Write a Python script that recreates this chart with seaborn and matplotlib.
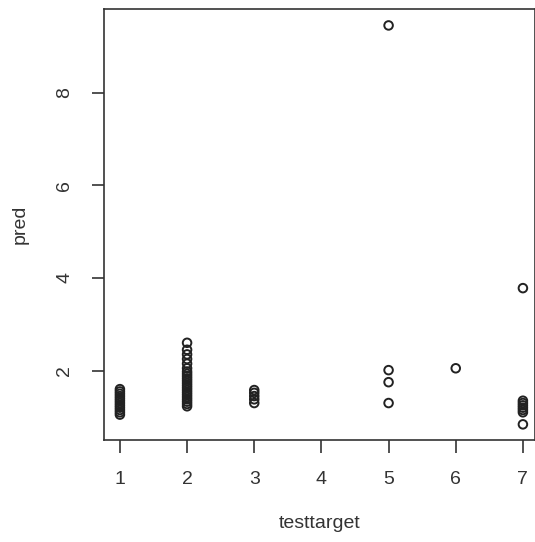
import matplotlib
matplotlib.use("Agg")
import matplotlib.pyplot as plt
import seaborn as sns
import pandas as pd

sns.set_style("ticks")
plt.rcParams['font.family'] = ['Liberation Sans', 'DejaVu Sans']

# test target class and predicted value
t1 = [1.05, 1.10, 1.15, 1.20, 1.25, 1.30, 1.35, 1.40, 1.45, 1.50, 1.55, 1.60]
t2 = [1.23, 1.28, 1.33, 1.38, 1.43, 1.48, 1.53, 1.58, 1.63, 1.68, 1.73, 1.78,
      1.83, 1.88, 1.93, 1.98, 2.05, 2.15, 2.25, 2.35, 2.45, 2.60]
t3 = [1.30, 1.38, 1.45, 1.52, 1.58]
t5 = [1.30, 1.75, 2.01, 9.45]
t6 = [2.05]
t7 = [0.84, 1.10, 1.15, 1.20, 1.25, 1.30, 1.35, 3.78]

testtarget = [1] * len(t1) + [2] * len(t2) + [3] * len(t3) + [5] * len(t5) + [6] * len(t6) + [7] * len(t7)
pred = t1 + t2 + t3 + t5 + t6 + t7
df = pd.DataFrame({"testtarget": testtarget, "pred": pred})

fig = plt.figure(figsize=(5.35, 5.42), dpi=100)
ax = fig.add_axes([0.194, 0.188, 0.806, 0.795])

sns.scatterplot(data=df, x="testtarget", y="pred", ax=ax, marker="o", s=38,
                facecolors="none", edgecolor="#222222", linewidth=1.4)

ax.set_xlim(0.76, 7.18)
ax.set_ylim(0.5, 9.8)
ax.set_xticks([1, 2, 3, 4, 5, 6, 7])
ax.set_yticks([2, 4, 6, 8])
ax.tick_params(axis="both", length=9, width=1.2, color="#333333", labelsize=14,
               labelcolor="#333333", pad=13)
for lbl in ax.get_yticklabels():
    lbl.set_rotation(90)
    lbl.set_va("center")
for sp in ax.spines.values():
    sp.set_linewidth(1.2)
    sp.set_color("#333333")
ax.set_xlabel("testtarget", fontsize=14, color="#333333", labelpad=20)
ax.set_ylabel("pred", fontsize=14, color="#333333", labelpad=20)

fig.savefig("out.png", dpi=100)
